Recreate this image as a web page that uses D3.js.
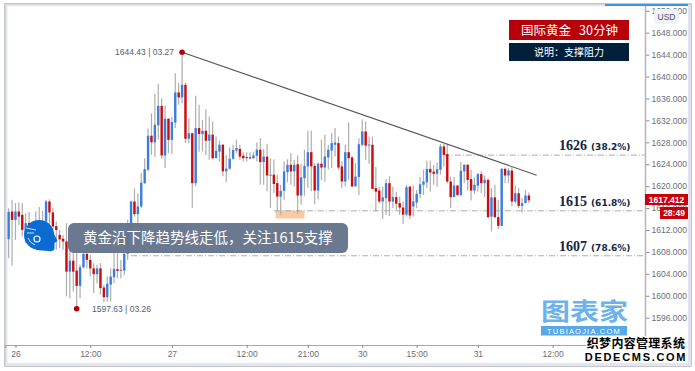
<!DOCTYPE html>
<html>
<head>
<meta charset="utf-8">
<script src="https://cdn.jsdelivr.net/npm/d3@7"></script>
<style>
html, body { margin: 0; padding: 0; background: #fff; overflow: hidden; }
svg { display: block; }
text { font-family: "Liberation Sans", Arial, sans-serif; white-space: pre; }
.cjk { font-family: "Noto Sans CJK SC", sans-serif; }
</style>
</head>
<body>
<div id="chart"></div>
<script>
// 30 minute bars
const opens = [
    1610.33,1615.37,1613.85,1615.37,1614.77,1611.4,1613.3,1611.5,1610.5,1612.5,
    1612.5,1613.55,1617.2,1615.2,1612.7,1611.1,1610.4,1609.9,1604.4,1606.4,
    1604.6,1601.8,1605.2,1607.65,1606.55,1605,1603.95,1605,1601.5,1599.75,
    1602.05,1603.4,1604.85,1604.55,1604.6,1607.65,1611.4,1617.2,1614.9,1616.3,
    1620.55,1623,1629.2,1628,1631.1,1634.65,1625.6,1632.3,1628.45,1631.6,
    1637.1,1636.2,1638.5,1628.65,1629.65,1620.55,1630.6,1629.5,1630.1,1628.3,
    1629.4,1625.1,1626.3,1627.55,1622.7,1623.2,1625,1626.5,1626.8,1625.55,
    1625.3,1625.25,1625.1,1625.55,1626.65,1624.4,1625.4,1622,1622.1,1620.55,
    1618.1,1619.15,1622.55,1623.9,1622.7,1624,1618.3,1621.45,1623.6,1626.2,
    1623.7,1619.2,1624.1,1623.4,1625.25,1626.5,1627.55,1627.85,1623.6,1620.85,
    1626.2,1625.25,1619.95,1621.65,1627.55,1629.98,1627.5,1627.55,1619.65,1619.2,
    1617.2,1617.8,1620.55,1617.2,1618,1616.9,1616.1,1614.8,1619.9,1616.3,
    1617,1618.6,1620.25,1620.7,1623.15,1622.65,1622.25,1623,1627.25,1625.85,
    1620.85,1618,1620.1,1618.4,1622.7,1623.9,1621.3,1619.2,1620.1,1622.2,
    1620.55,1621.15,1614.45,1617.95,1614.35,1612.75,1623.15,1621.95,1622.85,1617.2,
    1618.7,1616.4,1616.9,1618.3
];
const highs = [
    1615.98,1617.5,1616.9,1617,1616.9,1615.07,1615.3,1613,1615.4,1616.2,
    1615.5,1617.5,1617.6,1616,1613.55,1612,1611.1,1613.25,1608.1,1608.1,
    1608.1,1605.65,1608.4,1608.7,1607.5,1605.95,1605.65,1605.95,1602,1603.5,
    1605,1607.8,1608.1,1606.55,1609.9,1613.85,1617.4,1619.6,1618.7,1622.4,
    1625.1,1630.5,1633.3,1636.85,1638.7,1636.05,1634.65,1632.4,1632.6,1640.6,
    1638.8,1644.43,1638.9,1632.4,1629.8,1636.5,1634.85,1632.1,1634.05,1632.7,
    1631.8,1629.1,1628.3,1627.7,1625.7,1627.1,1627.55,1628.5,1627.55,1626.15,
    1626.2,1626.2,1626.3,1627.95,1628.8,1626.75,1627.75,1625.1,1624.9,1622.1,
    1620.25,1624.5,1624.9,1626,1624.8,1625.6,1624.1,1626.65,1630.1,1630.1,
    1624.2,1624.3,1628.5,1629.4,1627.55,1629.7,1630.6,1629.05,1624.5,1627.55,
    1631.6,1625.55,1624.2,1628.75,1632.2,1631.8,1629.05,1629.05,1623.5,1619.85,
    1619.95,1621.3,1621.8,1619.9,1619,1618.1,1617.2,1620.25,1620.05,1620.1,
    1619.3,1621.65,1623,1624.7,1624.7,1623.9,1624.3,1627.7,1627.7,1627.7,
    1621.75,1621.65,1620.25,1624.4,1624,1624,1623,1621.65,1622.4,1622.7,
    1621.9,1621.45,1619.65,1620.25,1617.5,1623.3,1623.4,1623.3,1623.45,1620.1,
    1619.65,1617.8,1619.3,1618.85
];
const lows = [
    1606.86,1605.46,1610.2,1612.9,1610.8,1609.6,1609.5,1609,1609,1608.7,
    1610,1613.25,1613,1610.8,1608.4,1608.7,1608.4,1599.9,1599.55,1600.8,
    1597.63,1599.55,1605,1605,1603.5,1600.5,1602.3,1600.2,1598.8,1598.95,
    1598.95,1602.3,1603.2,1603.2,1603.8,1606.55,1611.1,1614.45,1612.65,1616,
    1620.4,1622.7,1625.7,1625.3,1628.5,1625,1623.3,1626,1625.85,1630.6,
    1634.85,1635.15,1627.85,1627.85,1616,1620.05,1626.3,1626.3,1625.7,1624.8,
    1624.9,1625.1,1624.5,1621.8,1620.7,1623,1624.8,1626,1624.8,1624.5,
    1624.5,1624.9,1625,1624.5,1620.25,1620.25,1619.05,1616,1618.75,1615.4,
    1614.75,1617.5,1620.7,1620.25,1619.95,1614.9,1616.6,1618.25,1619.65,1619.05,
    1616.7,1617.6,1621.15,1620.85,1623.1,1623.3,1625.4,1623,1619.65,1619.95,
    1621.15,1619.85,1619.95,1618.4,1627.25,1624.8,1624.1,1619.45,1615.4,1616.9,
    1614,1614.75,1614.6,1616,1615.7,1614.8,1613.1,1614.45,1614,1614.45,
    1616,1617.8,1618.4,1619.65,1619,1620.25,1619.9,1622.1,1623.6,1620.55,
    1616,1618,1618.2,1618.2,1620.55,1619.2,1617.4,1618.6,1619,1618.7,
    1618,1614.15,1611.75,1614.15,1612.15,1612.75,1620.55,1620.55,1616.4,1616.9,
    1616,1615.2,1616.9,1616.9
];
const closes = [
    1615.31,1613.85,1615.37,1614.46,1612.03,1613.25,1611.5,1610.5,1612.5,1613.6,
    1613.6,1617.2,1615.2,1612.65,1612,1610.3,1609.9,1604.4,1606.4,1604.4,
    1601.8,1605.2,1607.65,1606.55,1605,1603.95,1605,1601.4,1599.75,1602.2,
    1603.5,1604.9,1604.55,1604.75,1607.65,1611.4,1617.2,1614.9,1616.3,1620.65,
    1623.1,1629.2,1628,1631.2,1634.65,1625.6,1632.3,1628.45,1631.7,1637.1,
    1636.2,1638.5,1628.65,1629.65,1620.55,1630.6,1629.5,1630.1,1628.3,1629.4,
    1625.1,1626.45,1627.55,1622.7,1623.2,1625,1626.6,1626.95,1625.4,1625.1,
    1625.2,1625.1,1625.6,1626.65,1624.4,1625.4,1621.95,1622.1,1620.4,1618.1,
    1619.15,1622.7,1623.9,1622.7,1623.9,1618.3,1621.6,1623.7,1626.2,1623.6,
    1619.2,1624.1,1623.4,1625.4,1626.65,1627.85,1627.95,1623.4,1620.85,1626.2,
    1625.1,1619.95,1621.75,1627.65,1629.98,1627.4,1627.6,1619.5,1619,1617.2,
    1617.95,1620.55,1617.2,1618,1616.8,1616.1,1614.8,1619.8,1614.65,1617.2,
    1618.6,1620.35,1620.85,1623.15,1622.5,1622.25,1623.1,1627.25,1625.7,1620.85,
    1618,1620.1,1618.4,1622.8,1623.9,1621.15,1619.2,1620.25,1622.2,1620.55,
    1621.15,1614.35,1617.95,1614.35,1612.75,1623.15,1621.95,1622.85,1617.2,1618.7,
    1616.4,1616.9,1618.3,1617.412
];

const priceTicks = [1652,1648,1644,1640,1636,1632,1628,1624,1620,1616,1612,1608,1604,1600,1596];
const timeTickBars = [2,24,48,70,88,104,120,138,160];
const timeTickLabels = ['26','12:00','27','12:00','21:00','30','15:00','31','12:00'];

// trend line and the two marked extremes
const trendBars = [51, 155.3];
const trendPrices = [1644.43, 1622];
const extremeBars = [51, 20];
const extremePrices = [1644.43, 1597.63];
const extremeLabels = ['1644.43 | 03.27', '1597.63 | 03.26'];

// support / resistance levels
const levelNames = ['1626', '1615', '1607'];
const levelPercents = ['(38.2%)', '(61.8%)', '(78.6%)'];
const levelPrices = [1625.66, 1615.5, 1607.3];
const levelStartBars = [128, 78, 36];

const width = 695;
const height = 371;

const svg = d3.select('#chart')
    .append('svg')
    .attr('width', width)
    .attr('height', height);

const xScale = d3.scaleLinear().domain([-1, 187]).range([5.27, 644.47]);
const yScale = d3.scaleLinear().domain([1596, 1648]).range([317.7, 32.7]);

// Frame
svg.append('rect').attr('x', 5).attr('y', 4).attr('width', 686).attr('height', 362)
    .attr('fill', '#fff').attr('stroke', '#8a8d93').attr('stroke-width', 1);
svg.append('rect').attr('x', 5.5).attr('y', 4.5).attr('width', 2).attr('height', 361).attr('fill', '#e4e5f2');
svg.append('rect').attr('x', 5.5).attr('y', 4.5).attr('width', 685).attr('height', 2).attr('fill', '#e9e9f4');
svg.append('rect').attr('x', 688).attr('y', 5).attr('width', 3).attr('height', 361).attr('fill', '#dfe1f0');
svg.append('rect').attr('x', 5.5).attr('y', 363).attr('width', 685).attr('height', 3).attr('fill', '#e4e5f2');
svg.append('rect').attr('x', 605).attr('y', 4).attr('width', 83).attr('height', 2).attr('fill', '#3f93e0');

// Axes
const yAxis = d3.axisRight(yScale)
    .tickValues(priceTicks)
    .tickSize(4)
    .tickPadding(2)
    .tickFormat(d3.format('.3f'));
const yAxisG = svg.append('g')
    .attr('transform', 'translate(645.5,0)')
    .call(yAxis);
yAxisG.select('.domain').remove();
yAxisG.selectAll('.tick line').attr('stroke', '#8a8d93');
yAxisG.selectAll('text').attr('fill', '#6a6d78').style('font-size', '8.5px');
svg.append('line').attr('x1', 645.5).attr('x2', 645.5).attr('y1', 6).attr('y2', 345)
    .attr('stroke', '#b2b5be').attr('stroke-width', 1.5);

const xAxis = d3.axisBottom(xScale)
    .tickValues(timeTickBars)
    .tickSize(3)
    .tickPadding(3)
    .tickFormat((d, i) => timeTickLabels[i]);
const xAxisG = svg.append('g')
    .attr('transform', 'translate(0,345)')
    .call(xAxis);
xAxisG.select('.domain').attr('stroke', '#a5a8b0').attr('stroke-width', 1.2);
xAxisG.selectAll('.tick line').attr('stroke', '#8a8d93');
xAxisG.selectAll('text').attr('fill', '#6a6d78').style('font-size', '8.5px');

// Orange support box
svg.append('rect')
    .attr('x', xScale(78.5)).attr('y', yScale(1615.55))
    .attr('width', xScale(87) - xScale(78.5)).attr('height', yScale(1614.1) - yScale(1615.55))
    .attr('fill', '#f9c9a2');

// Levels
svg.selectAll('.level')
    .data(levelPrices)
    .join('line')
    .attr('class', 'level')
    .attr('x1', (d, i) => xScale(levelStartBars[i]))
    .attr('x2', xScale(187))
    .attr('y1', d => yScale(d))
    .attr('y2', d => yScale(d))
    .attr('stroke', '#a3a3a3')
    .attr('stroke-width', 0.9)
    .attr('stroke-dasharray', '6,2,1,2');

// Candles
const bars = opens.map((o, i) => ({ i, o, h: highs[i], l: lows[i], c: closes[i] }));
const candle = svg.append('g').selectAll('g').data(bars).join('g');
candle.append('line')
    .attr('x1', d => xScale(d.i)).attr('x2', d => xScale(d.i))
    .attr('y1', d => yScale(d.h)).attr('y2', d => yScale(d.l))
    .attr('stroke', '#adadad').attr('stroke-width', 1.2);
candle.append('rect')
    .attr('x', d => xScale(d.i) - 1.2)
    .attr('width', 2.4)
    .attr('y', d => yScale(Math.max(d.o, d.c)))
    .attr('height', d => Math.max(1, Math.abs(yScale(d.o) - yScale(d.c))))
    .attr('fill', d => d.c >= d.o ? '#3b7ddd' : '#cf0a0a');

// Trend line
svg.append('line')
    .attr('x1', xScale(trendBars[0])).attr('y1', yScale(trendPrices[0]))
    .attr('x2', xScale(trendBars[1])).attr('y2', yScale(trendPrices[1]))
    .attr('stroke', '#555').attr('stroke-width', 1.1);

// Extreme markers
svg.selectAll('.extreme')
    .data(extremeBars)
    .join('circle')
    .attr('class', 'extreme')
    .attr('cx', d => xScale(d))
    .attr('cy', (d, i) => yScale(extremePrices[i]))
    .attr('r', 2.8)
    .attr('fill', '#b5000c');
svg.append('text').attr('x', 174).attr('y', yScale(extremePrices[0]) + 3)
    .attr('text-anchor', 'end').attr('fill', '#50607a').style('font-size', '8.5px')
    .text(extremeLabels[0]);
svg.append('text').attr('x', 92).attr('y', yScale(extremePrices[1]) + 3)
    .attr('fill', '#50607a').style('font-size', '8.5px')
    .text(extremeLabels[1]);

// Level labels
levelNames.forEach((name, i) => {
    const t = svg.append('text')
        .attr('x', 559)
        .attr('y', yScale(levelPrices[i]) - 5)
        .attr('fill', '#12263f')
        .style('font-family', '"Liberation Serif", serif')
        .style('font-weight', 'bold');
    t.append('tspan').style('font-size', '14px').text(name);
    t.append('tspan').attr('dx', 4).style('font-size', '9px').style('font-family', '"DejaVu Sans", sans-serif').text(levelPercents[i]);
});

// Title boxes
svg.append('rect').attr('x', 509).attr('y', 20).attr('width', 120).attr('height', 20).attr('fill', '#b8000a');
svg.append('text').attr('class', 'cjk').attr('x', 521).attr('y', 34.5)
    .attr('fill', '#fff').style('font-size', '12.5px').text('国际黄金');
svg.append('text').attr('class', 'cjk').attr('x', 579).attr('y', 34.5)
    .attr('fill', '#fff').style('font-size', '12.5px').text('30分钟');
svg.append('rect').attr('x', 509).attr('y', 43).attr('width', 120).attr('height', 18).attr('fill', '#001f3b');
svg.append('text').attr('class', 'cjk').attr('x', 569).attr('y', 56).attr('text-anchor', 'middle')
    .attr('fill', '#fff').style('font-size', '10px').text('说明\uFF1A支撑阻力');

// USD badge
svg.append('rect').attr('x', 654).attr('y', 9).attr('width', 25).attr('height', 15).attr('rx', 3).attr('fill', '#eff2f9');
svg.append('text').attr('x', 666.5).attr('y', 20).attr('text-anchor', 'middle')
    .attr('fill', '#50535e').style('font-size', '8.5px').text('USD');

// Last price labels
svg.append('rect').attr('x', 645).attr('y', 194).attr('width', 43).attr('height', 11).attr('fill', '#c8000a');
svg.append('text').attr('x', 666.5).attr('y', 202.5).attr('text-anchor', 'middle')
    .attr('fill', '#fff').style('font-size', '8.5px').style('font-weight', 'bold').text('1617.412');
svg.append('rect').attr('x', 660).attr('y', 207).attr('width', 28).attr('height', 12).attr('fill', '#c8000a');
svg.append('text').attr('x', 674).attr('y', 216).attr('text-anchor', 'middle')
    .attr('fill', '#fff').style('font-size', '8.5px').style('font-weight', 'bold').text('28:49');

// Caption pill
svg.append('rect').attr('x', 68).attr('y', 223).attr('width', 280).attr('height', 30).attr('rx', 6)
    .attr('fill', '#64748a').attr('fill-opacity', 0.96);
svg.append('text').attr('class', 'cjk').attr('x', 83).attr('y', 243)
    .attr('fill', '#fff').style('font-size', '14.5px').text('黄金沿下降趋势线走低\uFF0C关注1615支撑');

// Head logo
const logo = svg.append('g');
logo.append('circle').attr('cx', 39).attr('cy', 235).attr('r', 15).attr('fill', '#0b6bd0');
logo.append('path')
    .attr('d', 'M44 221 C51 223 53 229 54 234 L57.5 241 L54.5 243 L54.5 249 Q53 252 48 251 L36 250 Z')
    .attr('fill', '#0b6bd0');
logo.append('path')
    .attr('d', 'M26 228 L36 230 M27 233 L34 233 M28 238 Q30 243 35 245')
    .attr('fill', 'none').attr('stroke', '#fff').attr('stroke-width', 0.8);
logo.append('circle').attr('cx', 37).attr('cy', 239).attr('r', 3)
    .attr('fill', 'none').attr('stroke', '#fff').attr('stroke-width', 1.2);

// Watermarks
svg.append('text').attr('class', 'cjk').attr('x', 541).attr('y', 320)
    .attr('textLength', 87).attr('lengthAdjust', 'spacingAndGlyphs')
    .attr('fill', '#6db2ea').style('font-size', '24px').style('font-weight', 'bold').text('图表家');
svg.append('rect').attr('x', 541).attr('y', 326).attr('width', 86).attr('height', 9.5).attr('fill', '#58a7e6');
svg.append('text').attr('x', 584).attr('y', 334).attr('text-anchor', 'middle')
    .attr('fill', '#fff').style('font-size', '7.5px').style('letter-spacing', '1.2px').text('TUBIAOJIA.COM');
svg.append('text').attr('class', 'cjk').attr('x', 636).attr('y', 348).attr('text-anchor', 'middle')
    .attr('fill', '#000').attr('stroke', '#fff').attr('stroke-width', 2.5).attr('paint-order', 'stroke')
    .style('font-size', '12px').style('font-weight', 'bold').style('letter-spacing', '0.3px').text('织梦内容管理系统');
svg.append('text').attr('x', 636).attr('y', 361).attr('text-anchor', 'middle')
    .attr('fill', '#000').attr('stroke', '#fff').attr('stroke-width', 2.5).attr('paint-order', 'stroke')
    .style('font-size', '11px').style('font-weight', 'bold').style('letter-spacing', '1.7px').text('DEDECMS.COM');
</script>
</body>
</html>
